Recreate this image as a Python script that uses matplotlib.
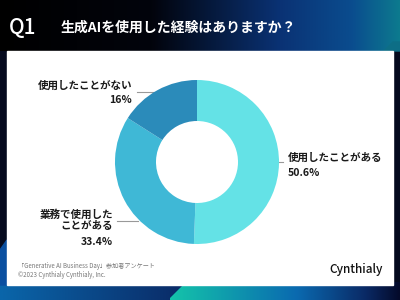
import numpy as np
import matplotlib
matplotlib.use('Agg')
import matplotlib.pyplot as plt
from matplotlib.colors import LinearSegmentedColormap
from matplotlib.patches import Rectangle, Polygon

plt.rcParams['font.family'] = ['Noto Sans CJK JP', 'DejaVu Sans']

# survey answers (clockwise from 12 o'clock)
labels = ['使用したことがある', '業務で使用した\nことがある', '使用したことがない']
values = [50.6, 33.4, 16.0]
pct_text = ['50.6%', '33.4%', '16%']
colors = ['#64E2E6', '#3FB8D6', '#2B8BBA']

title = '生成AIを使用した経験はありますか？'
source = '「Generative AI Business Day」参加者アンケート'
copyright_txt = '©2023 Cynthialy Cynthialy, Inc.'

W, H = 400, 300
fig = plt.figure(figsize=(4, 3), dpi=100)

def fx(x):
    return x / W

def fy(y):
    return 1 - y / H

# background in pixel coordinates
bg = fig.add_axes([0, 0, 1, 1])
bg.set_xlim(0, W)
bg.set_ylim(H, 0)
bg.axis('off')
bg.add_patch(Rectangle((0, 0), W, H, color='#050A1E', zorder=0))

top_cmap = LinearSegmentedColormap.from_list(
    'top', [(0, '#000000'), (0.38, '#02040C'), (0.7, '#0A3274'), (0.88, '#0A4C8E'), (1, '#0D7A8E')])
grad = np.linspace(0, 1, 256).reshape(1, -1)
bg.imshow(grad, cmap=top_cmap, extent=(0, W, 51, 0), aspect='auto', zorder=1)

bl_cmap = LinearSegmentedColormap.from_list('bl', [(0, '#0A66AA'), (1, '#0A2A66')])
bg.imshow(grad, cmap=bl_cmap, extent=(0, 185, H, 278), aspect='auto', zorder=1)
br_cmap = LinearSegmentedColormap.from_list(
    'br', [(0, '#14C4AA'), (0.55, '#0A6AB0'), (0.85, '#0A2A66'), (1, '#040A2A')])
br = bg.imshow(grad, cmap=br_cmap, extent=(170, W, H, 278), aspect='auto', zorder=2)
clip = Polygon([(168, 300), (186, 282), (400, 282), (400, 300)], closed=True, transform=bg.transData)
br.set_clip_path(clip)
bg.add_patch(Polygon([(0, 250), (7, 240), (7, 285), (0, 285)], color='#0A4FA0', zorder=1))
bg.add_patch(Polygon([(384, 51), (393, 42), (400, 42), (400, 51)], color='#0D6E86', zorder=1))

# white card
bg.add_patch(Rectangle((7, 51), 386, 234, color='white', zorder=3))

# header
fig.text(fx(9), fy(28), 'Q1', color='white', fontsize=15, fontweight='medium', va='center', ha='left')
fig.text(fx(61), fy(28), title, color='white', fontsize=10, fontweight='bold', va='center', ha='left')

# donut
cx, cy, r = 197, 162, 82
pad = 88
ax = fig.add_axes([fx(cx - pad), fy(cy + pad), 2 * pad / W, 2 * pad / H])
ax.pie(values, colors=colors, startangle=90, counterclock=False,
       wedgeprops=dict(width=0.5, linewidth=0))
ax.set_xlim(-pad / r, pad / r)
ax.set_ylim(-pad / r, pad / r)
ax.axis('off')

# leader lines
bg.plot([277, 283], [162, 162], color='#999999', lw=0.8, zorder=4)
bg.plot([117, 138], [221, 221], color='#999999', lw=0.8, zorder=4)
bg.plot([137, 154], [92, 92], color='#999999', lw=0.8, zorder=4)

# labels
lab_kw = dict(fontsize=7.6, fontweight='bold', color='#1A1A1A')
fig.text(fx(288), fy(158), labels[0], ha='left', va='center', **lab_kw)
fig.text(fx(288), fy(173), pct_text[0], ha='left', va='center', **lab_kw)
fig.text(fx(113), fy(220), labels[1], ha='right', va='center', linespacing=1.25, **lab_kw)
fig.text(fx(113), fy(242), pct_text[1], ha='right', va='center', **lab_kw)
fig.text(fx(132), fy(86), labels[2], ha='right', va='center', **lab_kw)
fig.text(fx(132), fy(100), pct_text[2], ha='right', va='center', **lab_kw)

# footer
fig.text(fx(18), fy(266), source, fontsize=4.4, color='#777777', ha='left', va='center')
fig.text(fx(18), fy(275), copyright_txt, fontsize=4.4, color='#777777', ha='left', va='center')
fig.text(fx(383), fy(270), 'Cynthialy', fontsize=8.5, fontweight='medium', color='#111111',
         ha='right', va='center')

fig.savefig('out.png', dpi=100)
